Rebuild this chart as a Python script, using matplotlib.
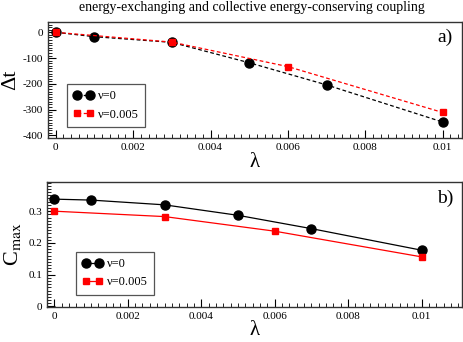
import matplotlib
matplotlib.use("Agg")
import matplotlib.pyplot as plt
from matplotlib.ticker import MultipleLocator, FormatStrFormatter

plt.rcParams['font.family'] = ['Liberation Serif', 'DejaVu Serif']
plt.rcParams['mathtext.fontset'] = 'stix'
plt.rcParams['axes.unicode_minus'] = False

title = "energy-exchanging and collective energy-conserving coupling"

# panel a) Delta t vs lambda
lam_a_nu0 = [0.0, 0.001, 0.003, 0.005, 0.007, 0.01]
dt_nu0 = [0, -17, -39, -118, -204, -348]
lam_a_nu5 = [0.0, 0.003, 0.006, 0.01]
dt_nu5 = [0, -38, -133, -311]

# panel b) C_max vs lambda
lam_b_nu0 = [0.0, 0.001, 0.003, 0.005, 0.007, 0.01]
cmax_nu0 = [0.338, 0.335, 0.320, 0.287, 0.245, 0.177]
lam_b_nu5 = [0.0, 0.003, 0.006, 0.01]
cmax_nu5 = [0.300, 0.283, 0.237, 0.156]

labels = ["ν=0", "ν=0.005"]
xticks = [0, 0.002, 0.004, 0.006, 0.008, 0.01]
xticklabels = ["0", "0.002", "0.004", "0.006", "0.008", "0.01"]

W, H = 463, 342
fig = plt.figure(figsize=(W/100, H/100), dpi=100)

def px_axes(l, r, t, b):
    return fig.add_axes([l/W, (H-b)/H, (r-l)/W, (b-t)/H])

ax1 = px_axes(48, 462, 22, 138)
ax2 = px_axes(47, 462, 182, 307)

def style(ax):
    ax.tick_params(which='both', direction='in', top=False, right=False, labelsize=8)
    ax.tick_params(which='major', length=6, width=0.8)
    ax.tick_params(which='minor', length=3, width=0.6)
    ax.set_xticks(xticks)
    ax.set_xticklabels(xticklabels)
    ax.xaxis.set_minor_locator(MultipleLocator(0.0002))
    for s in ax.spines.values():
        s.set_linewidth(1.0)
        s.set_color('#333333')

# panel a
ax1.plot(lam_a_nu0, dt_nu0, color='black', ls=(0, (3, 2)), lw=0.9,
         marker='o', ms=6.5, mfc='black', mec='black', label=labels[0])
ax1.plot(lam_a_nu5, dt_nu5, color='red', ls=(0, (3, 2)), lw=0.9,
         marker='s', ms=4.5, mfc='red', mec='red', label=labels[1])
ax1.set_xlim(-0.0002, 0.0105)
ax1.set_ylim(-410, 40)
ax1.set_yticks([0, -100, -200, -300, -400])
ax1.yaxis.set_minor_locator(MultipleLocator(10))
style(ax1)
ax1.set_ylabel("Δt", fontsize=16, labelpad=2)
ax1.set_xlabel("λ", fontsize=15, labelpad=1)
ax1.text(0.96, 0.87, "a)", transform=ax1.transAxes, fontsize=14, ha='center', va='center')
leg1 = ax1.legend(loc='lower left', bbox_to_anchor=(0.046, 0.095), borderaxespad=0,
                  fontsize=9, numpoints=2, handlelength=1.6, fancybox=False,
                  framealpha=1, edgecolor='#555555', borderpad=0.5, labelspacing=0.5,
                  handletextpad=0.4)
leg1.get_frame().set_linewidth(0.9)

# panel b
ax2.plot(lam_b_nu0, cmax_nu0, color='black', ls='-', lw=0.9,
         marker='o', ms=6.5, mfc='black', mec='black', label=labels[0])
ax2.plot(lam_b_nu5, cmax_nu5, color='red', ls='-', lw=0.9,
         marker='s', ms=4.5, mfc='red', mec='red', label=labels[1])
ax2.set_xlim(-0.0002, 0.0111)
ax2.set_ylim(-0.002, 0.392)
ax2.set_yticks([0, 0.1, 0.2, 0.3])
ax2.set_yticklabels(["0", "0.1", "0.2", "0.3"])
ax2.yaxis.set_minor_locator(MultipleLocator(0.01))
style(ax2)
ax2.set_ylabel("C$_{\\mathrm{max}}$", fontsize=16, labelpad=4)
ax2.set_xlabel("λ", fontsize=15, labelpad=0)
ax2.text(0.96, 0.87, "b)", transform=ax2.transAxes, fontsize=14, ha='center', va='center')
leg2 = ax2.legend(loc='lower left', bbox_to_anchor=(0.07, 0.10), borderaxespad=0,
                  fontsize=9, numpoints=2, handlelength=1.6, fancybox=False,
                  framealpha=1, edgecolor='#555555', borderpad=0.5, labelspacing=0.5,
                  handletextpad=0.4)
leg2.get_frame().set_linewidth(0.9)

fig.text(252/W, 1 - 8/H, title, fontsize=10, ha='center', va='center')

fig.savefig("out.png", dpi=100)
